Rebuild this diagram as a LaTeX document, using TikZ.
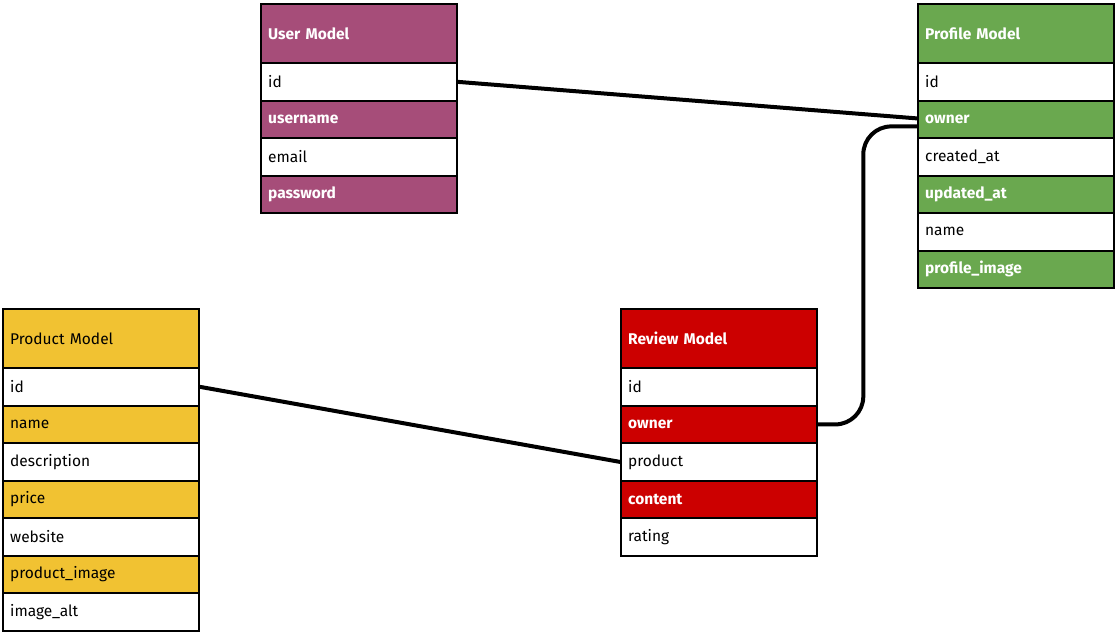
\documentclass[tikz,border=0pt]{standalone}
\usepackage{fontspec}
\setmainfont{Fira Sans}
\definecolor{userc}{HTML}{A64D79}
\definecolor{profc}{HTML}{6AA84F}
\definecolor{prodc}{HTML}{F1C232}
\definecolor{revc}{HTML}{CC0000}
\begin{document}
\begin{tikzpicture}[x=1pt,y=-1pt,
  cell/.style={draw=black, line width=2.3pt, anchor=north west, minimum width=196pt,
    minimum height=37.5pt, text width=182pt, inner xsep=7pt, inner ysep=0pt,
    align=left, font=\fontsize{15.5}{17}\selectfont, fill=white, text=black},
  head/.style={cell, minimum height=59pt},
  dark/.style={fill=#1, text=white, font=\fontsize{15.5}{17}\selectfont\bfseries},
  light/.style={fill=#1, text=black},
  conn/.style={draw=black, line width=4pt, line cap=round}
]
\useasboundingbox (0,0) rectangle (1115,632);

% User Model
\node[head, dark=userc] (u0) at (260,3) {User Model};
\node[cell] (u1) at (260,62) {id};
\node[cell, dark=userc] (u2) at (260,99.5) {username};
\node[cell] (u3) at (260,137) {email};
\node[cell, dark=userc] (u4) at (260,174.5) {password};

% Profile Model
\node[head, dark=profc] (p0) at (917,3) {Profile Model};
\node[cell] (p1) at (917,62) {id};
\node[cell, dark=profc] (p2) at (917,99.5) {owner};
\node[cell] (p3) at (917,137) {created\_at};
\node[cell, dark=profc] (p4) at (917,174.5) {updated\_at};
\node[cell] (p5) at (917,212) {name};
\node[cell, dark=profc] (p6) at (917,249.5) {profile\_image};

% Product Model
\node[head, light=prodc] (d0) at (2,308) {Product Model};
\node[cell] (d1) at (2,367) {id};
\node[cell, light=prodc] (d2) at (2,404.5) {name};
\node[cell] (d3) at (2,442) {description};
\node[cell, light=prodc] (d4) at (2,479.5) {price};
\node[cell] (d5) at (2,517) {website};
\node[cell, light=prodc] (d6) at (2,554.5) {product\_image};
\node[cell] (d7) at (2,592) {image\_alt};

% Review Model
\node[head, dark=revc] (r0) at (620,308) {Review Model};
\node[cell] (r1) at (620,367) {id};
\node[cell, dark=revc] (r2) at (620,404.5) {owner};
\node[cell] (r3) at (620,442) {product};
\node[cell, dark=revc] (r4) at (620,479.5) {content};
\node[cell] (r5) at (620,517) {rating};

% Connectors
\draw[conn] (u1.east) -- ([yshift=1pt]p2.west);
\draw[conn] (d1.east) -- (r3.west);
\draw[conn, rounded corners=28pt] (r2.east) -- ++(45,0) |- ([yshift=-7pt]p2.west);
\end{tikzpicture}
\end{document}
